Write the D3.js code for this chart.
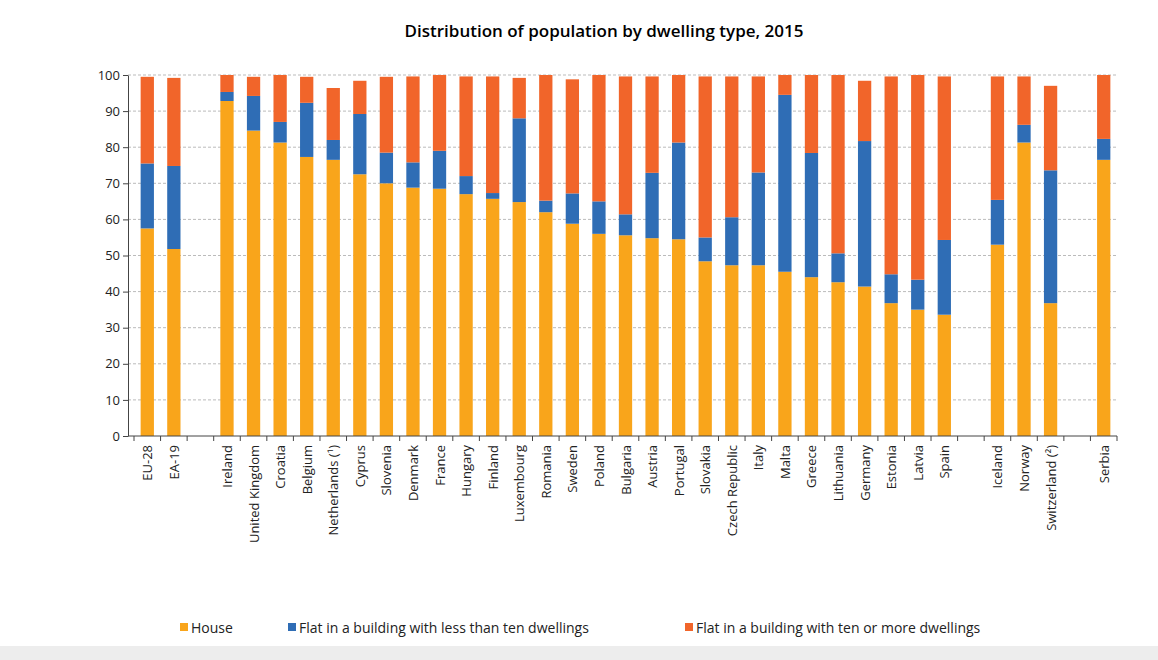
<!DOCTYPE html>
<html><head><meta charset="utf-8">
<script src="https://cdn.jsdelivr.net/npm/d3@7"></script>
<style>body{margin:0;background:#fff;font-family:"Open Sans",Arial,sans-serif}</style>
</head><body>
<svg id="c" width="1158" height="660"></svg>
<script>
// categories ("" = gap slot)
const countries = ['EU-28','EA-19','','Ireland','United Kingdom','Croatia','Belgium','Netherlands (¹)','Cyprus','Slovenia','Denmark','France','Hungary','Finland','Luxembourg','Romania','Sweden','Poland','Bulgaria','Austria','Portugal','Slovakia','Czech Republic','Italy','Malta','Greece','Lithuania','Germany','Estonia','Latvia','Spain','','Iceland','Norway','Switzerland (²)','','Serbia'];
const house =   [57.5,51.8,null,92.8,84.6,81.3,77.3,76.5,72.5,70,68.8,68.5,67,65.7,64.8,62,58.8,56,55.6,54.8,54.5,48.4,47.3,47.3,45.5,44,42.6,41.4,36.8,35,33.6,null,53,81.3,36.8,null,76.5];
const flatSmall=[18,23,null,2.5,9.6,5.7,15,5.5,16.7,8.5,7,10.5,5,1.6,23.2,3.2,8.4,9,5.8,18.1,26.8,6.6,13.3,25.7,49,34.4,8,40.3,8,8.3,20.7,null,12.4,4.9,36.8,null,5.8];
const flatLarge=[24,24.4,null,4.7,5.3,13,7.2,14.4,9.2,21,23.8,21,27.6,32.3,11.2,34.8,31.6,35,38.2,26.7,18.7,44.6,39,26.6,5.5,21.6,49.4,16.7,54.8,56.7,45.3,null,34.2,13.4,23.4,null,17.7];
const series = ['House','Flat in a building with less than ten dwellings','Flat in a building with ten or more dwellings'];
const colors = ['#f9a51b','#2f6db5','#f1652a'];
const yTicks = d3.range(0,101,10);

const svg = d3.select('#c');
svg.append('rect').attr('x',0).attr('y',646).attr('width',1158).attr('height',14).attr('fill','#ededed');
svg.append('text').attr('x',604).attr('y',37).attr('text-anchor','middle')
  .attr('font-size',17).attr('font-weight',600).text('Distribution of population by dwelling type, 2015');

const x = d3.scaleBand().domain(countries.map((c,i)=>i)).range([134,1117]).paddingInner(0.5).paddingOuter(0.25);
const y = d3.scaleLinear().domain([0,100]).range([436,75]);

// grid
svg.append('g').selectAll('line').data(yTicks.slice(1)).join('line')
  .attr('x1',128).attr('x2',1117).attr('y1',d=>y(d)).attr('y2',d=>y(d))
  .attr('stroke','#bbb').attr('stroke-dasharray','3,2');

// bars
countries.forEach((c,i)=>{
  if(!c) return;
  const vals=[house[i],flatSmall[i],flatLarge[i]];
  let base=0;
  vals.forEach((v,k)=>{
    svg.append('rect').attr('x',x(i)).attr('width',x.bandwidth())
      .attr('y',y(base+v)).attr('height',y(base)-y(base+v)).attr('fill',colors[k]);
    base+=v;
  });
});

// y axis
const ya=svg.append('g').attr('transform','translate(128,0)')
  .call(d3.axisLeft(y).tickValues(yTicks).tickSize(5).tickSizeOuter(0));
ya.selectAll('text').attr('font-size',13).attr('fill','#222').attr('font-family','"Open Sans",Arial,sans-serif');
ya.selectAll('line,path').attr('stroke','#444');

// x axis
const step=x.step();
svg.append('line').attr('x1',128).attr('x2',1117).attr('y1',436).attr('y2',436).attr('stroke','#444');
svg.append('g').selectAll('line').data(d3.range(countries.length+1)).join('line')
  .attr('x1',d=>134+d*step).attr('x2',d=>134+d*step).attr('y1',436).attr('y2',441).attr('stroke','#444');
svg.append('g').selectAll('text').data(countries.map((c,i)=>[c,i]).filter(d=>d[0])).join('text')
  .attr('transform',d=>`translate(${x(d[1])+x.bandwidth()/2+5},445) rotate(-90)`)
  .attr('text-anchor','end').attr('font-size',13).attr('fill','#222').text(d=>d[0]);

// legend
const lx=[180,288,685];
series.forEach((s,k)=>{
  svg.append('rect').attr('x',lx[k]).attr('y',623).attr('width',8).attr('height',8).attr('fill',colors[k]);
  svg.append('text').attr('x',lx[k]+11).attr('y',633).attr('font-size',14).attr('fill','#222').text(s);
});
</script>
</body></html>
